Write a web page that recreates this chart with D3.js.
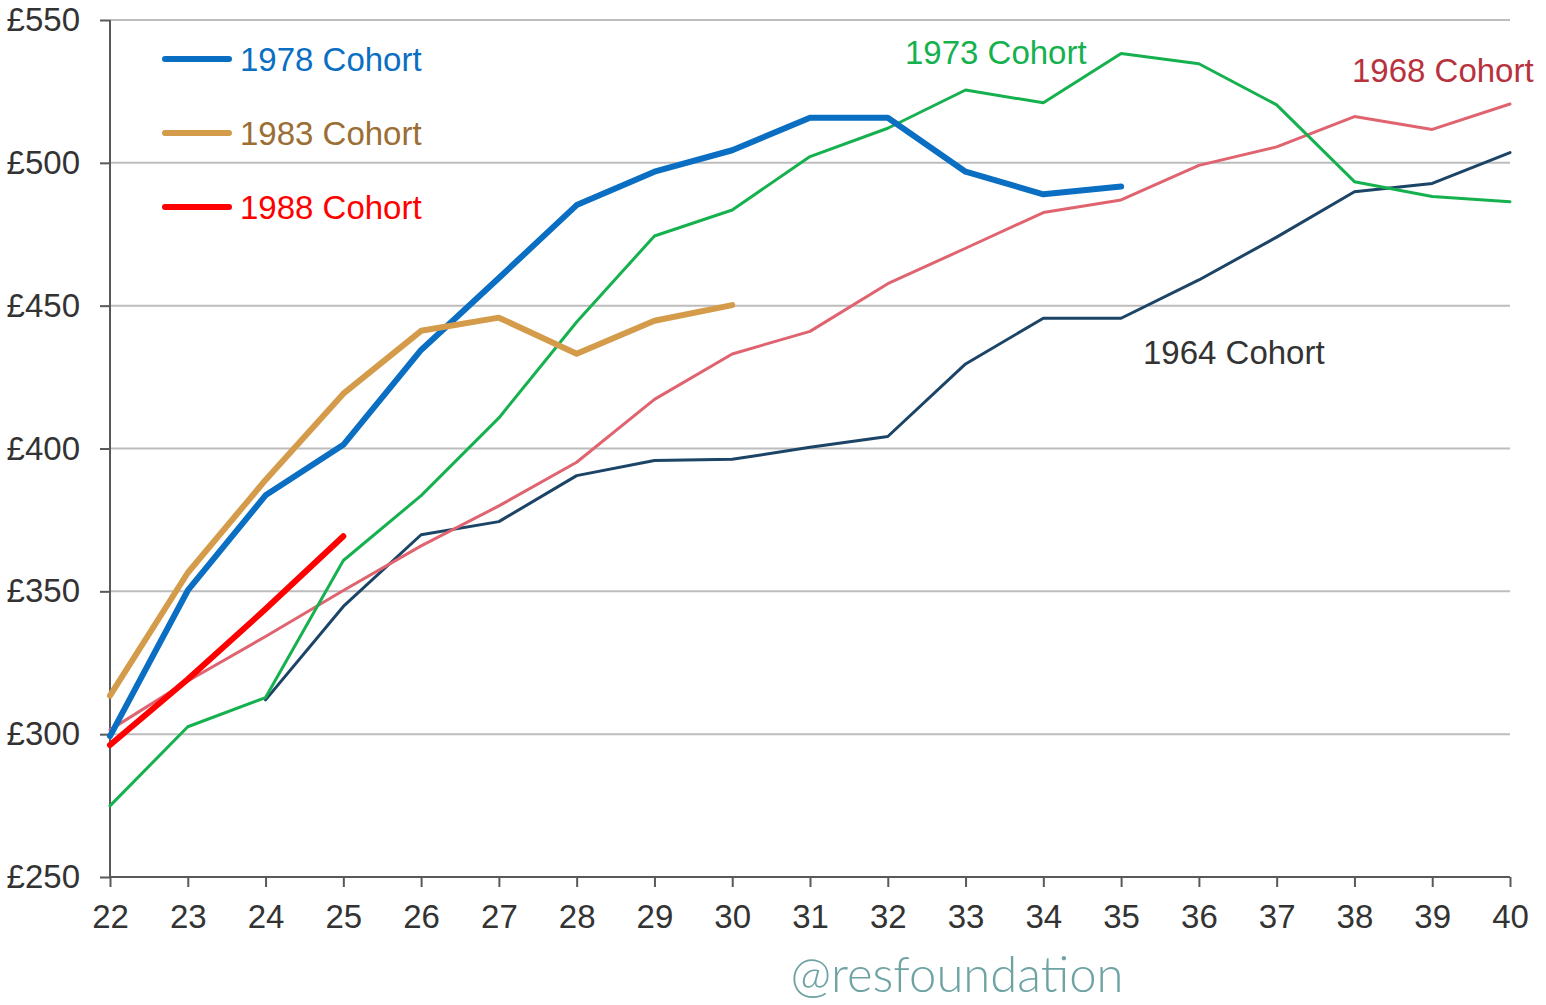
<!DOCTYPE html>
<html>
<head>
<meta charset="utf-8">
<script src="https://cdn.jsdelivr.net/npm/d3@7"></script>
<style>
  html, body { margin: 0; padding: 0; background: #fff; }
  svg text { font-family: "Liberation Sans", Arial, sans-serif; }
</style>
</head>
<body>
<div id="chart"></div>
<script>
// Weekly pay by age, per birth cohort
const ages = d3.range(22, 41);
const yTicks = [250, 300, 350, 400, 450, 500, 550];

const cohort1964 = [null, null, 312, 344.7, 369.8, 374.4, 390.5, 395.8, 396.2, 400.4, 404.2, 429.6, 445.6, 445.6, 459.0, 474.0, 489.9, 492.8, 503.6];
const cohort1968 = [301.5, 318.6, 334.2, 350.3, 365.9, 379.9, 395.2, 417.2, 433.1, 441.0, 457.7, 470.1, 482.6, 487.0, 499.1, 505.6, 516.2, 511.7, 520.6];
const cohort1973 = [274.9, 302.6, 312.8, 360.8, 383.5, 410.7, 444.3, 474.4, 483.5, 502.2, 512.1, 525.5, 521.0, 538.3, 534.7, 520.3, 493.4, 488.2, 486.4];
const cohort1978 = [299.3, 350.3, 383.6, 401.3, 434.5, 459.7, 485.2, 496.9, 504.4, 515.8, 515.8, 496.9, 489.0, 491.7];
const cohort1983 = [313.5, 356.5, 389.0, 419.2, 441.2, 445.8, 433.2, 444.7, 450.2];
const cohort1988 = [296.2, 319.2, 343.8, 369.3];

const series = [
  { name: "1964 Cohort", values: cohort1964, color: "#1b4466", width: 3 },
  { name: "1968 Cohort", values: cohort1968, color: "#df6470", width: 3 },
  { name: "1973 Cohort", values: cohort1973, color: "#16b14f", width: 3 },
  { name: "1978 Cohort", values: cohort1978, color: "#0a6fc2", width: 6 },
  { name: "1983 Cohort", values: cohort1983, color: "#d49c4a", width: 6 },
  { name: "1988 Cohort", values: cohort1988, color: "#ff0000", width: 6 },
];

const legendItems = [
  { name: "1978 Cohort", color: "#0a6fc2", text: "#0a6fc2" },
  { name: "1983 Cohort", color: "#d49c4a", text: "#9a6e34" },
  { name: "1988 Cohort", color: "#ff0000", text: "#ff0000" },
];

const width = 1546;
const height = 1005;
const margin = { top: 20, right: 36, bottom: 128, left: 110 };
const fontSize = "33px";

const svg = d3.select("#chart")
  .append("svg")
  .attr("width", width)
  .attr("height", height)
  .attr("viewBox", [0, 0, width, height]);

const x = d3.scaleLinear()
  .domain([22, 40])
  .range([margin.left, width - margin.right]);

const y = d3.scaleLinear()
  .domain([250, 550])
  .range([height - margin.bottom, margin.top]);

// gridlines
svg.append("g")
  .selectAll("line")
  .data(yTicks.slice(1))
  .join("line")
  .attr("x1", x(22))
  .attr("x2", x(40))
  .attr("y1", (d) => y(d))
  .attr("y2", (d) => y(d))
  .attr("stroke", "#bdbdbd")
  .attr("stroke-width", 2);

// y axis
svg.append("g")
  .attr("transform", `translate(${margin.left},0)`)
  .call(d3.axisLeft(y).tickValues(yTicks).tickSize(10).tickPadding(20).tickFormat((d) => `£${d}`))
  .call((g) => g.select(".domain").attr("stroke", "#595959").attr("stroke-width", 2).attr("d", `M0,${y(250)}V${y(550)}`))
  .call((g) => g.selectAll(".tick line").attr("stroke", "#595959").attr("stroke-width", 2))
  .call((g) => g.selectAll(".tick text")
    .attr("fill", "#333")
    .style("font-size", fontSize)
    .attr("font-family", "Liberation Sans, Arial, sans-serif"));

// x axis
svg.append("g")
  .attr("transform", `translate(0,${y(250)})`)
  .call(d3.axisBottom(x).tickValues(ages).tickSize(10).tickPadding(18).tickFormat(d3.format("d")))
  .call((g) => g.select(".domain").attr("stroke", "#595959").attr("stroke-width", 2).attr("d", `M${x(22)},0H${x(40)}`))
  .call((g) => g.selectAll(".tick line").attr("stroke", "#595959").attr("stroke-width", 2))
  .call((g) => g.selectAll(".tick text")
    .attr("fill", "#333")
    .style("font-size", fontSize)
    .attr("font-family", "Liberation Sans, Arial, sans-serif"));

const line = d3.line()
  .defined((d) => d != null)
  .x((d, i) => x(ages[i]))
  .y((d) => y(d));

svg.append("g")
  .selectAll("path")
  .data(series)
  .join("path")
  .attr("d", (d) => line(d.values))
  .attr("fill", "none")
  .attr("stroke", (d) => d.color)
  .attr("stroke-width", (d) => d.width)
  .attr("stroke-linejoin", "round")
  .attr("stroke-linecap", "round");

// legend
const legend = svg.append("g");
legendItems.forEach((d, i) => {
  const cy = 59 + i * 74;
  legend.append("line")
    .attr("x1", 165).attr("x2", 229)
    .attr("y1", cy).attr("y2", cy)
    .attr("stroke", d.color)
    .attr("stroke-width", 6)
    .attr("stroke-linecap", "round");
  legend.append("text")
    .attr("x", 240).attr("y", cy + 12)
    .attr("fill", d.text)
    .style("font-size", fontSize)
    .text(d.name);
});

// direct labels
const labels = [
  { text: "1973 Cohort", x: 905, y: 64, color: "#16b14f" },
  { text: "1968 Cohort", x: 1352, y: 82, color: "#b8323e" },
  { text: "1964 Cohort", x: 1143, y: 364, color: "#333333" },
];
svg.append("g")
  .selectAll("text")
  .data(labels)
  .join("text")
  .attr("x", (d) => d.x)
  .attr("y", (d) => d.y)
  .attr("fill", (d) => d.color)
  .style("font-size", fontSize)
  .text((d) => d.text);

svg.append("text")
  .attr("x", 957)
  .attr("y", 992)
  .attr("text-anchor", "middle")
  .attr("fill", "#6fa3a3")
  .style("font-family", "Lato, 'Open Sans', sans-serif")
  .style("font-size", "49px")
  .style("font-weight", 300)
  .text("@resfoundation");
</script>
</body>
</html>
